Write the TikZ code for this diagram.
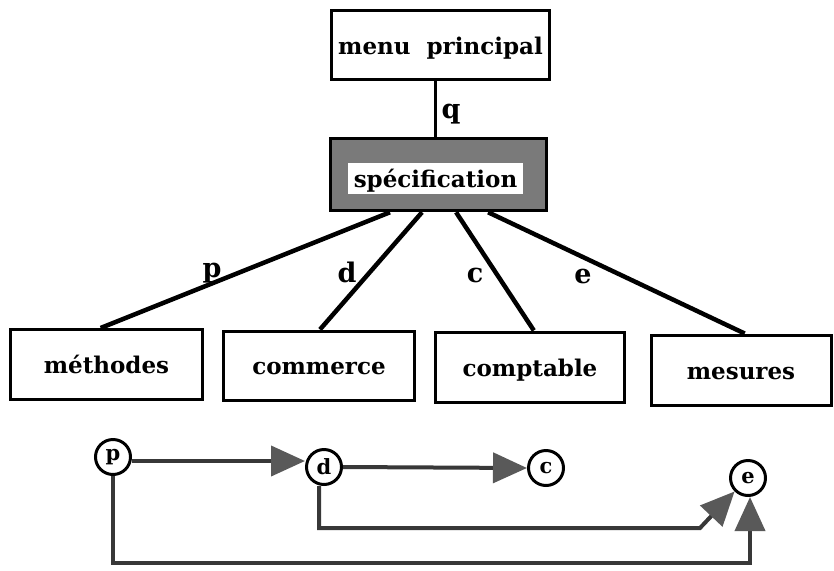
\documentclass[tikz,border=0pt]{standalone}
\usepackage{fontspec}
\setmainfont{DejaVu Serif}
\usetikzlibrary{arrows.meta,calc}
\tikzset{
  txt/.style={font=\fontsize{23}{27}\selectfont\bfseries, text height=22pt, text depth=4pt, inner sep=0pt},
  box/.style={txt, draw, line width=3pt},
  branch/.style={line width=4.5pt},
  lbl/.style={font=\fontsize{27}{32}\selectfont\bfseries, inner sep=0pt, anchor=base},
  circ/.style={circle, draw, line width=3pt, minimum size=35pt, inner sep=0pt,
    font=\fontsize{21}{24}\selectfont\bfseries},
  flow/.style={line width=4pt, draw=black!78, -{Triangle[length=34pt,width=30pt,fill=black!65,color=black!65]}},
}
\begin{document}
\begin{tikzpicture}[x=1pt,y=-1pt]
\useasboundingbox (0,0) rectangle (834,570);
% top boxes
\node[box, minimum width=218pt, minimum height=69pt] (menu) at (440.5,45) {menu\ \ principal};
\node[draw, line width=3.5pt, fill=black!52, minimum width=216pt, minimum height=72pt] (spec) at (438.5,174.5) {};
\node[txt, fill=white, minimum width=175pt, minimum height=31pt] (specin) at (435.5,178.5) {spécification};
\draw[line width=3.5pt] (specin.north |- menu.south) -- (specin.north |- spec.north);
\node[lbl] (q) at (451,118) {q};
% bottom boxes
\node[box, minimum width=192pt, minimum height=70pt] (meth) at (106.5,364.5) {méthodes};
\node[box, minimum width=191pt, minimum height=69pt] (comm) at (319,365.5) {commerce};
\node[box, minimum width=189pt, minimum height=70pt] (compt) at (530,367) {comptable};
\node[box, minimum width=180pt, minimum height=70pt] (mes) at (741,370) {mesures};
% branches
\draw[branch] ($(spec.south west)!0.279!(spec.south east)$) -- ($(meth.north west)!0.47!(meth.north east)$);
\draw[branch] ($(spec.south west)!0.425!(spec.south east)$) -- ($(comm.north west)!0.505!(comm.north east)$);
\draw[branch] ($(spec.south west)!0.58!(spec.south east)$) -- ($(compt.north west)!0.52!(compt.north east)$);
\draw[branch] ($(spec.south west)!0.726!(spec.south east)$) -- ($(mes.north west)!0.52!(mes.north east)$);
\node[lbl] (lp) at (212,277) {p};
\node[lbl] (ld) at (347,282) {d};
\node[lbl] (lc) at (475,282) {c};
\node[lbl] (le) at (583,283) {e};
% flow graph
\node[circ] (cp) at (113,457) {p};
\node[circ] (cd) at (324,467) {d};
\node[circ] (cc) at (546,468) {c};
\node[circ] (ce) at (748,478) {e};
\coordinate (de) at (700,528);
\coordinate (pe) at (750,563);
\draw[flow] (cp.east |- 0,461) -- (cd.west |- 0,461);
\draw[flow] (cd.east) -- (cc.west);
\draw[flow] ($(cd.south)+(-5,0)$) |- (de) -- (ce.south west);
\draw[flow] (cp.south) |- (pe) -- ($(ce.south)+(2,0)$);
\end{tikzpicture}
\end{document}
